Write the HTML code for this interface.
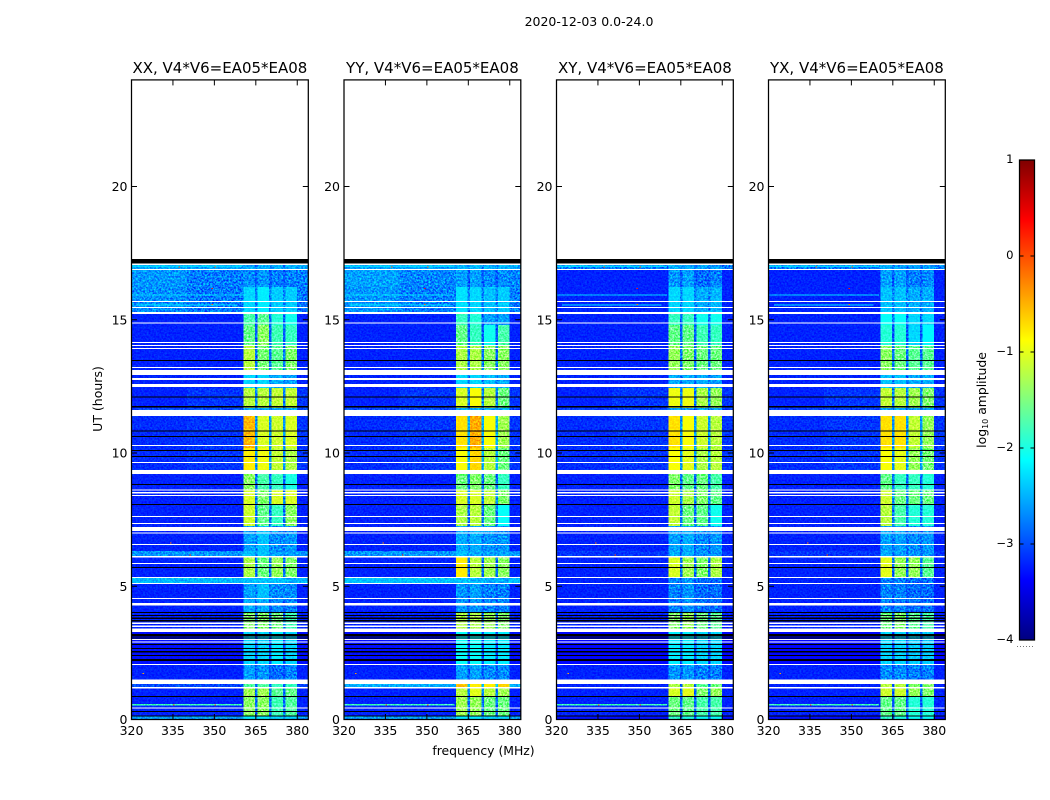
<!DOCTYPE html>
<html>
<head>
<meta charset="utf-8">
<title>2020-12-03 0.0-24.0</title>
<style>
html,body{margin:0;padding:0;background:#fff;width:1050px;height:800px;overflow:hidden}
svg{display:block}
text{font-family:"DejaVu Sans","Liberation Sans",sans-serif;fill:#000}
</style>
</head>
<body>
<svg id="chart" xmlns="http://www.w3.org/2000/svg" width="1050" height="800" viewBox="0 0 1050 800">
<defs>
<filter id="speckle" x="0" y="0" width="1" height="1" color-interpolation-filters="sRGB">
<feTurbulence type="fractalNoise" baseFrequency="0.55" numOctaves="2" seed="7"/>
<feColorMatrix type="matrix" values="2 0 0 0 -0.55 2 0 0 0 -0.55 2 0 0 0 -0.55 0 0 0 0 1"/>
</filter>
<linearGradient id="jet-gradient" x1="0" y1="1" x2="0" y2="0"></linearGradient>
</defs>
<text x="589" y="26" font-size="12.5" text-anchor="middle">2020-12-03 0.0-24.0</text>
<text transform="translate(102,399) rotate(-90)" font-size="12.5" text-anchor="middle">UT (hours)</text>
<text x="483.5" y="755" font-size="12.4" text-anchor="middle">frequency (MHz)</text>
<text transform="translate(986,400) rotate(-90)" font-size="12.4" text-anchor="middle">log<tspan font-size="8" dy="2">10</tspan><tspan dy="-2"> amplitude</tspan></text>
<g id="panels"></g>
<g id="colorbar"></g>
</svg>
<script>
// Panel labels
const panelNames = ['XX', 'YY', 'XY', 'YX'];
const panelSuffix = ', V4*V6=EA05*EA08';
// Axis ticks
const xTickValues = [320, 335, 350, 365, 380];
const yTickValues = [0, 5, 10, 15, 20];
const colorbarTicks = [1, 0, -1, -2, -3, -4];
// Spectrogram grid: time edges (UT hours), frequency edges (MHz)
const timeEdges = [17.05,16.88,16.23,15.25,14.80,14.05,13.11,12.44,11.69,11.39,10.19,9.36,8.61,8.05,7.26,6.33,6.10,5.31,5.08,4.48,4.03,3.28,2.08,1.33,1.22,0.88,0.13,0];
const freqEdges = [320,340,360.5,364.75,365.6,369.8,370.65,374.9,375.7,379.85,384];
// which column of a level row supplies each frequency bin
const freqColumn = [0,1,2,6,3,6,4,6,5,1];
// log10 amplitude rows: [bgLow, bgHigh, band1, band2, band3, band4, notch]
const levelsXX = [
[-2.55,-2.55,-2.5,-2.5,-2.5,-2.5,-2.7],[-2.6,-2.72,-2.65,-2.6,-2.7,-2.7,-2.9],[-2.65,-2.75,-2.3,-2.2,-2.35,-2.35,-2.7],
[-3.2,-3.2,-1.75,-1.65,-1.95,-2.05,-2.8],[-3.2,-3.2,-1.6,-1.4,-1.8,-1.85,-2.9],[-3.2,-3.2,-1.2,-1.5,-1.65,-1.45,-2.8],
[-3.2,-3.2,-2.3,-2.3,-2.5,-2.55,-2.7],[-3.2,-3.1,-1.2,-1.2,-1.15,-1.15,-2.7],[-3.0,-3.0,-2.5,-2.5,-2.5,-2.5,-2.7],
[-3.15,-3.1,-0.55,-1.05,-1.1,-1.05,-2.6],[-3.15,-3.1,-0.8,-0.95,-1.15,-1.25,-2.6],[-3.2,-3.2,-1.4,-1.75,-1.85,-2.0,-2.8],
[-3.2,-3.2,-1.05,-1.45,-1.05,-1.05,-2.7],[-3.2,-3.2,-1.1,-1.6,-1.85,-1.4,-2.8],[-3.2,-3.2,-2.55,-2.4,-2.65,-2.6,-2.7],
[-2.6,-2.6,-2.4,-2.4,-2.55,-2.55,-2.6],[-3.2,-3.2,-1.25,-1.55,-1.35,-1.45,-2.8],[-2.45,-2.45,-2.4,-2.4,-2.4,-2.5,-2.4],
[-3.2,-3.2,-2.55,-2.4,-2.65,-2.65,-2.7],[-3.2,-3.2,-2.5,-2.5,-2.65,-2.7,-2.9],[-3.2,-3.2,-1.45,-1.45,-1.55,-1.8,-2.8],
[-3.3,-3.3,-2.3,-2.3,-2.2,-2.3,-3.0],[-3.2,-3.2,-2.55,-2.6,-2.8,-2.7,-2.9],[-3.0,-3.0,-1.7,-1.7,-1.85,-1.85,-2.8],
[-3.2,-3.2,-1.3,-1.3,-1.65,-1.6,-2.8],[-3.2,-3.2,-1.4,-1.4,-1.8,-1.7,-2.8],[-2.55,-2.55,-2.2,-2.2,-2.3,-2.3,-2.5]
];
const levelsYY = [
[-2.55,-2.55,-2.45,-2.45,-2.45,-2.45,-2.7],[-2.55,-2.68,-2.55,-2.55,-2.65,-2.65,-2.9],[-2.6,-2.72,-2.25,-2.3,-2.4,-2.35,-2.7],
[-3.2,-3.2,-1.85,-1.95,-2.55,-2.55,-2.8],[-3.2,-3.2,-1.6,-1.85,-2.05,-1.75,-2.9],[-3.2,-3.2,-1.25,-1.25,-1.4,-1.4,-2.8],
[-3.2,-3.2,-2.3,-2.3,-2.4,-2.5,-2.7],[-3.2,-3.1,-1.05,-0.9,-1.2,-1.55,-2.7],[-3.0,-3.0,-2.5,-2.5,-2.5,-2.5,-2.7],
[-3.15,-3.1,-0.75,-0.5,-0.9,-1.3,-2.5],[-3.15,-3.1,-0.9,-0.7,-1.2,-1.55,-2.5],[-3.2,-3.2,-1.55,-1.45,-1.55,-1.85,-2.8],
[-3.2,-3.2,-1.05,-1.05,-1.15,-1.45,-2.7],[-3.2,-3.2,-1.25,-1.2,-1.55,-2.1,-2.8],[-3.2,-3.2,-2.5,-2.5,-2.6,-2.6,-2.7],
[-2.6,-2.6,-2.4,-2.5,-2.55,-2.55,-2.6],[-3.2,-3.2,-0.8,-1.2,-1.3,-1.4,-2.8],[-2.4,-2.4,-2.4,-2.45,-2.5,-2.5,-2.4],
[-3.2,-3.2,-2.6,-2.55,-2.7,-2.7,-2.8],[-3.2,-3.2,-2.6,-2.6,-2.7,-2.7,-2.9],[-3.2,-3.2,-1.25,-1.25,-1.35,-1.45,-2.8],
[-3.3,-3.3,-2.1,-2.1,-2.2,-2.2,-3.0],[-3.2,-3.2,-2.55,-2.55,-2.65,-2.65,-2.9],[-2.5,-2.5,-0.6,-0.8,-0.8,-0.7,-2.4],
[-3.2,-3.2,-1.2,-1.0,-1.2,-1.3,-2.7],[-3.2,-3.2,-1.3,-1.35,-1.55,-1.55,-2.8],[-2.55,-2.55,-2.2,-2.2,-2.3,-2.3,-2.5]
];
const levelsXY = [
[-2.75,-2.75,-2.5,-2.5,-2.55,-2.55,-2.7],[-3.2,-3.2,-2.6,-2.55,-2.8,-2.7,-2.9],[-3.2,-3.2,-2.3,-2.3,-2.5,-2.45,-2.7],
[-3.2,-3.2,-1.85,-1.85,-2.05,-2.05,-2.8],[-3.2,-3.2,-1.6,-1.6,-1.8,-1.85,-2.9],[-3.2,-3.2,-1.35,-1.45,-1.55,-1.55,-2.8],
[-3.2,-3.2,-2.5,-2.5,-2.5,-2.55,-2.8],[-3.2,-3.1,-0.95,-0.95,-1.25,-1.35,-2.7],[-3.05,-3.05,-2.55,-2.55,-2.55,-2.55,-2.8],
[-3.15,-3.1,-0.75,-0.9,-1.1,-1.2,-2.6],[-3.15,-3.1,-0.9,-1.0,-1.25,-1.2,-2.6],[-3.2,-3.2,-1.45,-1.6,-1.55,-1.75,-2.8],
[-3.2,-3.2,-1.1,-1.25,-1.45,-1.6,-2.7],[-3.2,-3.2,-1.15,-1.55,-1.6,-2.05,-2.8],[-3.2,-3.2,-2.55,-2.5,-2.65,-2.6,-2.8],
[-3.1,-3.1,-2.5,-2.5,-2.6,-2.6,-2.8],[-3.2,-3.2,-1.05,-1.3,-1.45,-1.25,-2.8],[-3.2,-3.2,-2.7,-2.6,-2.8,-2.8,-2.9],
[-3.2,-3.2,-2.7,-2.6,-2.8,-2.8,-2.9],[-3.2,-3.2,-2.7,-2.6,-2.8,-2.8,-2.9],[-3.2,-3.2,-1.45,-1.35,-1.55,-1.65,-2.9],
[-3.35,-3.35,-2.2,-2.2,-2.3,-2.3,-3.0],[-3.2,-3.2,-2.6,-2.6,-2.7,-2.7,-2.9],[-3.2,-3.2,-1.25,-1.2,-1.65,-1.55,-2.8],
[-3.2,-3.2,-1.05,-1.0,-1.45,-1.35,-2.8],[-3.2,-3.2,-1.55,-1.6,-1.75,-1.75,-2.9],[-3.3,-3.3,-1.9,-2.0,-2.1,-2.1,-2.9]
];
const levelsYX = [
[-2.75,-2.75,-2.5,-2.55,-2.55,-2.55,-2.7],[-3.2,-3.2,-2.55,-2.55,-2.7,-2.65,-2.9],[-3.2,-3.2,-2.4,-2.4,-2.5,-2.5,-2.7],
[-3.2,-3.2,-2.1,-2.1,-2.3,-2.3,-2.8],[-3.2,-3.2,-1.95,-1.95,-2.3,-2.15,-2.9],[-3.2,-3.2,-1.4,-1.55,-1.65,-1.65,-2.8],
[-3.2,-3.2,-2.4,-2.4,-2.5,-2.5,-2.8],[-3.2,-3.1,-1.15,-1.2,-1.3,-1.45,-2.7],[-3.05,-3.05,-2.55,-2.55,-2.55,-2.55,-2.8],
[-3.15,-3.1,-0.75,-0.75,-1.15,-1.35,-2.6],[-3.15,-3.1,-0.9,-1.0,-1.35,-1.5,-2.6],[-3.2,-3.2,-1.6,-1.85,-1.85,-1.95,-2.8],
[-3.2,-3.2,-1.1,-1.55,-1.55,-1.55,-2.7],[-3.2,-3.2,-1.2,-1.75,-1.95,-1.95,-2.8],[-3.2,-3.2,-2.55,-2.55,-2.65,-2.6,-2.8],
[-3.1,-3.1,-2.5,-2.55,-2.6,-2.6,-2.8],[-3.2,-3.2,-1.0,-1.35,-1.35,-1.65,-2.8],[-3.2,-3.2,-2.7,-2.7,-2.8,-2.8,-2.9],
[-3.2,-3.2,-2.7,-2.7,-2.8,-2.8,-2.9],[-3.2,-3.2,-2.7,-2.7,-2.8,-2.8,-2.9],[-3.2,-3.2,-1.55,-1.45,-1.65,-1.75,-2.9],
[-3.35,-3.35,-2.3,-2.3,-2.35,-2.35,-3.0],[-3.2,-3.2,-2.65,-2.65,-2.7,-2.7,-2.9],[-3.2,-3.2,-1.2,-1.2,-1.45,-1.45,-2.8],
[-3.2,-3.2,-1.1,-1.1,-1.35,-1.45,-2.8],[-3.2,-3.2,-1.6,-1.6,-1.95,-1.95,-2.9],[-3.3,-3.3,-1.9,-2.0,-2.1,-2.1,-2.9]
];
const panelLevels = [levelsXX, levelsYY, levelsXY, levelsYX];
// Flagged (no data) intervals in UT hours: [upper, lower]
const blankIntervals = [[17.09,17.05],[16.90,16.86],[15.70,15.67],[15.48,15.44],[15.29,15.22],[14.90,14.85],[14.16,14.12],[14.05,14.01],[13.94,13.90],[13.23,13.19],[13.11,12.93],[12.81,12.74],[12.59,12.48],[11.61,11.39],[10.30,10.26],[9.66,9.62],[9.36,9.21],[8.63,8.59],[8.54,8.48],[8.42,8.39],[7.64,7.60],[7.38,7.35],[7.23,7.08],[7.01,6.97],[6.58,6.55],[6.13,6.07],[5.87,5.83],[5.35,5.31],[5.12,5.08],[4.56,4.52],[4.37,4.27],[3.64,3.59],[3.53,3.48],[3.41,3.28],[3.02,2.98],[2.93,2.89],[2.08,2.04],[1.50,1.33],[1.22,1.16],[0.45,0.41]];
// Zero-amplitude intervals in UT hours: [upper, lower]
const zeroIntervals = [[17.28,17.12],[13.49,13.45],[12.12,12.08],[11.76,11.71],[10.84,10.80],[10.64,10.60],[10.11,10.08],[9.89,9.85],[8.84,8.79],[8.09,8.05],[5.72,5.70],[4.03,4.00],[3.93,3.88],[3.83,3.77],[3.73,3.68],[3.21,3.11],[3.08,3.04],[2.83,2.80],[2.68,2.65],[2.57,2.51],[2.42,2.39],[2.27,2.20],[0.88,0.84],[0.32,0.28],[0.15,0.12]];
// RFI streaks: [upper UT, lower UT, start MHz, end MHz, level]
const rfiStreaks = [[15.95,15.91,320,360,-2.3],[15.57,15.53,322,358,-2.2],[0.58,0.53,320,360,-1.8],[17.03,16.97,320,360,-2.3]];
// Hot pixels: [UT, MHz, level]
const hotPixels = [[17.0,337,0.0],[17.0,350,-0.1],[15.6,349,-0.2],[16.2,349,0.3],[0.56,335,0.1],[0.56,350,0.0],[6.65,334,-0.2],[1.75,324,-0.4],[6.2,341,0.1]];

const NS = 'http://www.w3.org/2000/svg';
const panelLeft = [131.5, 344, 556.5, 768.5];
const panelWidth = 176.8;
const yZero = 719.5, yTop = 79.9;
const freqMin = 320, freqMax = 384, utMax = 24;
const xScale = (left, f) => left + (f - freqMin) / (freqMax - freqMin) * panelWidth;
const yScale = ut => yZero - ut / utMax * (yZero - yTop);

function jet(v) {
  const f = Math.min(1, Math.max(0, (v + 4) / 5));
  const r = Math.min(1, Math.max(0, Math.min(4 * f - 1.5, -4 * f + 4.5)));
  const g = Math.min(1, Math.max(0, Math.min(4 * f - 0.5, -4 * f + 3.5)));
  const b = Math.min(1, Math.max(0, Math.min(4 * f + 0.5, -4 * f + 2.5)));
  return 'rgb(' + Math.round(r * 255) + ',' + Math.round(g * 255) + ',' + Math.round(b * 255) + ')';
}
function mk(tag, parent) {
  const el = document.createElementNS(NS, tag);
  parent.appendChild(el);
  return el;
}
function box(el, x, y, w, h, fill) {
  el.setAttribute('x', x);
  el.setAttribute('y', y);
  el.setAttribute('width', w);
  el.setAttribute('height', h);
  el.setAttribute('fill', fill);
  el.setAttribute('shape-rendering', 'crispEdges');
}
function segment(el, x1, y1, x2, y2, w) {
  el.setAttribute('x1', x1);
  el.setAttribute('y1', y1);
  el.setAttribute('x2', x2);
  el.setAttribute('y2', y2);
  el.setAttribute('stroke', '#000');
  el.setAttribute('stroke-width', w);
}

const panelsRoot = document.getElementById('panels');
panelNames.forEach((name, p) => {
  const left = panelLeft[p];
  const right = left + panelWidth;
  const g = mk('g', panelsRoot);
  
  

  panelLevels[p].forEach((row, r) => {
    freqColumn.forEach((col, c) => {
      const cell = mk('rect', g);
      
      
      const x0 = xScale(left, freqEdges[c]);
      const x1 = xScale(left, freqEdges[c + 1]);
      const y0 = yScale(timeEdges[r]);
      const y1 = yScale(timeEdges[r + 1]);
      box(cell, x0, y0, x1 - x0, y1 - y0, jet(row[col]));
    });
  });

  rfiStreaks.forEach(s => {
    const streak = mk('rect', g);
    
    
    box(streak, xScale(left, s[2]), yScale(s[0]), xScale(left, s[3]) - xScale(left, s[2]), Math.max(1, yScale(s[1]) - yScale(s[0])), jet(s[4]));
  });

  const noise = mk('rect', g);
  
  
  noise.setAttribute('x', left);
  noise.setAttribute('y', yScale(timeEdges[0]));
  noise.setAttribute('width', panelWidth);
  noise.setAttribute('height', yZero - yScale(timeEdges[0]));
  noise.setAttribute('filter', 'url(#speckle)');
  noise.setAttribute('style', 'mix-blend-mode:overlay;opacity:.8');

  hotPixels.forEach(h => {
    const hot = mk('rect', g);
    
    
    box(hot, xScale(left, h[1]), yScale(h[0]), 1.5, 1, jet(h[2]));
  });

  blankIntervals.forEach(b => {
    const gap = mk('rect', g);
    
    
    box(gap, left, yScale(b[0]), panelWidth, Math.max(1, yScale(b[1]) - yScale(b[0])), '#fff');
  });
  zeroIntervals.forEach(b => {
    const gap = mk('rect', g);
    
    
    box(gap, left, yScale(b[0]), panelWidth, Math.max(1, yScale(b[1]) - yScale(b[0])), '#000');
  });

  xTickValues.forEach(v => {
    const x = xScale(left, v);
    const tickBottom = mk('line', g);
    
    
    segment(tickBottom, x, yZero, x, yZero - 5.5, 1);
    const tickTop = mk('line', g);
    
    
    segment(tickTop, x, yTop, x, yTop + 5.5, 1);
    const label = mk('text', g);
    
    
    label.setAttribute('x', x);
    label.setAttribute('y', 735);
    label.setAttribute('font-size', '12.5');
    label.setAttribute('text-anchor', 'middle');
    label.textContent = v;
  });
  yTickValues.forEach(v => {
    const y = yScale(v);
    const tickLeft = mk('line', g);
    
    
    segment(tickLeft, left, y, left + 5.5, y, 1);
    const tickRight = mk('line', g);
    
    
    segment(tickRight, right, y, right - 5.5, y, 1);
    const label = mk('text', g);
    
    
    label.setAttribute('x', left - 4);
    label.setAttribute('y', y + 4.5);
    label.setAttribute('font-size', '12.5');
    label.setAttribute('text-anchor', 'end');
    label.textContent = v;
  });

  const frame = mk('rect', g);
  
  
  frame.setAttribute('x', left);
  frame.setAttribute('y', yTop);
  frame.setAttribute('width', panelWidth);
  frame.setAttribute('height', yZero - yTop);
  frame.setAttribute('fill', 'none');
  frame.setAttribute('stroke', '#000');
  frame.setAttribute('stroke-width', '1.25');

  const title = mk('text', g);
  
  
  title.setAttribute('x', left + panelWidth / 2);
  title.setAttribute('y', 73);
  title.setAttribute('font-size', '15');
  title.setAttribute('text-anchor', 'middle');
  title.textContent = name + panelSuffix;
});

// Colorbar
const cbX = 1019.5, cbW = 15, cbTop = 160, cbBottom = 640;
const cbScale = v => cbBottom - (v + 4) / 5 * (cbBottom - cbTop);
const grad = document.getElementById('jet-gradient');
for (let i = 0; i <= 40; i++) {
  const stop = document.createElementNS(NS, 'stop');
  grad.appendChild(stop);
  stop.setAttribute('offset', i / 40);
  stop.setAttribute('stop-color', jet(-4 + 5 * i / 40));
}
const cb = document.getElementById('colorbar');
const cbBar = mk('rect', cb);


cbBar.setAttribute('x', cbX);
cbBar.setAttribute('y', cbTop);
cbBar.setAttribute('width', cbW);
cbBar.setAttribute('height', cbBottom - cbTop);
cbBar.setAttribute('fill', 'url(#jet-gradient)');
cbBar.setAttribute('stroke', '#000');
cbBar.setAttribute('stroke-width', '1.25');
colorbarTicks.forEach(v => {
  const y = cbScale(v);
  const t1 = mk('line', cb);
  
  
  segment(t1, cbX, y, cbX + 4, y, 1);
  const t2 = mk('line', cb);
  
  
  segment(t2, cbX + cbW, y, cbX + cbW - 4, y, 1);
  const label = mk('text', cb);
  
  
  label.setAttribute('x', 1013.5);
  label.setAttribute('y', y + 3);
  label.setAttribute('font-size', '11.6');
  label.setAttribute('text-anchor', 'end');
  label.textContent = String(v).replace('-', '\u2212');
});
const dots = mk('line', cb);


segment(dots, 1017, 646.5, 1035, 646.5, 1);
dots.setAttribute('stroke', '#777');
dots.setAttribute('stroke-dasharray', '1 2');
</script>
</body>
</html>
